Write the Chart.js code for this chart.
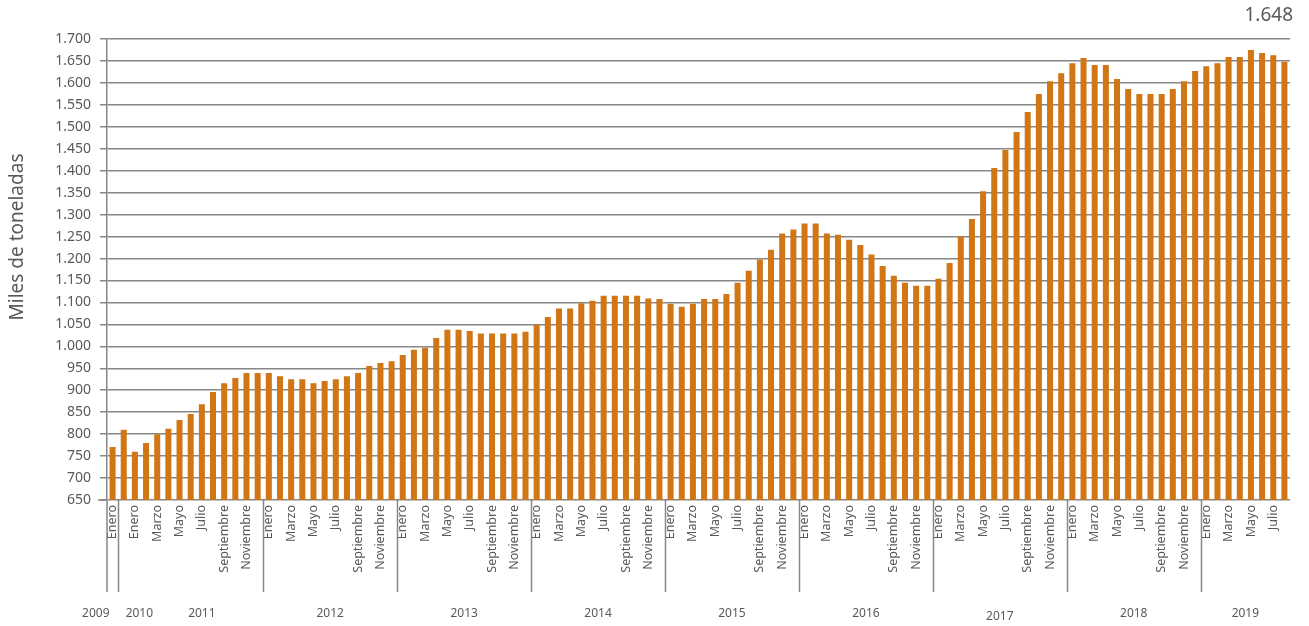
<!DOCTYPE html>
<html>
<head>
<meta charset="utf-8">
<script src="https://cdn.jsdelivr.net/npm/chart.js@4/dist/chart.umd.min.js"></script>
<style>
  html, body { margin: 0; padding: 0; background: #fff; }
</style>
</head>
<body>
<canvas id="chart" width="1309" height="626"></canvas>
<script>
// Monthly values, thousands of tonnes
const values = [
  771, 810,
  760, 780, 800, 812, 832, 846, 868, 896, 916, 928, 939, 939,
  939, 932, 925, 925, 916, 921, 925, 932, 939, 955, 962, 966,
  980, 992, 997, 1019, 1038, 1038, 1035, 1029, 1029, 1029, 1029, 1033,
  1049, 1067, 1086, 1086, 1098, 1104, 1115, 1115, 1115, 1115, 1109, 1108,
  1097, 1090, 1097, 1108, 1108, 1119, 1145, 1172, 1198, 1220, 1257, 1266,
  1280, 1280, 1257, 1254, 1243, 1231, 1209, 1183, 1161, 1145, 1138, 1138,
  1154, 1190, 1250, 1290, 1353, 1406, 1447, 1488, 1534, 1575, 1604, 1622,
  1645, 1657, 1641, 1641, 1609, 1586, 1575, 1575, 1575, 1586, 1604, 1627,
  1638, 1645, 1659, 1659, 1675, 1668, 1663, 1648
];

const monthNames = ['Enero', 'Febrero', 'Marzo', 'Abril', 'Mayo', 'Junio', 'Julio',
  'Agosto', 'Septiembre', 'Octubre', 'Noviembre', 'Diciembre'];

// first bar, then Dec + 12 months, then 7 full years, then Jan-Aug 2019
const categories = ['Enero', 'Diciembre'];
for (let y = 0; y < 8; y++) categories.push(...monthNames);
categories.push(...monthNames.slice(0, 8));

// index of first bar in each year group
const groupStarts = [0, 1, 14, 26, 38, 50, 62, 74, 86, 98];
const years = ['2009', '2010', '2011', '2012', '2013', '2014', '2015', '2016', '2017', '2018', '2019'];

const yTicks = { min: 650, max: 1700, step: 50 };

const textColor = '#595959';
const gridColor = '#878787';
const font = 'Noto Sans';

function fmt(v) {
  return String(Math.round(v)).replace(/\B(?=(\d{3})+(?!\d))/g, '.');
}

const extras = {
  id: 'extras',
  afterDraw(chart) {
    const ctx = chart.ctx;
    const x = chart.scales.x;
    const area = chart.chartArea;
    const step = x.getPixelForValue(1) - x.getPixelForValue(0);
    ctx.save();
    ctx.strokeStyle = gridColor;
    ctx.lineWidth = 1.5;
    // axis line extension and group separators
    ctx.beginPath();
    ctx.moveTo(98, area.bottom);
    ctx.lineTo(area.left, area.bottom);
    ctx.moveTo(area.left, area.bottom);
    ctx.lineTo(area.left, 592);
    groupStarts.slice(1).forEach(i => {
      const px = Math.round(x.getPixelForValue(i) - step / 2) + 0.5;
      ctx.moveTo(px, area.bottom);
      ctx.lineTo(px, 592);
    });
    ctx.stroke();

    // year labels
    ctx.fillStyle = textColor;
    ctx.font = '12px "' + font + '"';
    ctx.textAlign = 'center';
    ctx.textBaseline = 'middle';
    const pos = [-1.5, 2.4, 8];
    for (let g = 2; g < groupStarts.length; g++) {
      const end = g + 1 < groupStarts.length ? groupStarts[g + 1] : categories.length;
      pos.push((groupStarts[g] + end - 1) / 2);
    }
    years.forEach((yr, k) => {
      const yy = yr === '2017' ? 617 : 614;
      ctx.fillText(yr, x.getPixelForValue(0) + pos[k] * step, yy);
    });

    // axis title
    ctx.save();
    ctx.translate(18, 237);
    ctx.rotate(-Math.PI / 2);
    ctx.font = '19px "' + font + '"';
    ctx.fillText('Miles de toneladas', 0, 0);
    ctx.restore();

    // last value label
    ctx.font = '19px "' + font + '"';
    ctx.textAlign = 'right';
    ctx.fillText(fmt(values[values.length - 1]), 1293, 16);
    ctx.restore();
  }
};

new Chart(document.getElementById('chart'), {
  type: 'bar',
  data: {
    labels: categories,
    datasets: [{
      data: values,
      backgroundColor: '#D07614',
      barPercentage: 0.54,
      categoryPercentage: 1.0
    }]
  },
  options: {
    responsive: false,
    animation: false,
    layout: { padding: { top: 39, right: 19, left: 0, bottom: 0 } },
    plugins: {
      legend: { display: false },
      tooltip: { enabled: false }
    },
    scales: {
      x: {
        grid: { display: false, drawTicks: false },
        border: { display: false },
        ticks: {
          autoSkip: false,
          minRotation: 90,
          maxRotation: 90,
          padding: 5,
          color: textColor,
          font: { family: font, size: 12.5 },
          callback(val, index) {
            return index % 2 === 0 ? this.getLabelForValue(val) : '';
          }
        },
        afterFit(scale) { scale.height = 126; }
      },
      y: {
        min: yTicks.min,
        max: yTicks.max,
        grid: { color: gridColor, lineWidth: 1.5, tickLength: 7 },
        border: { color: gridColor, width: 1.5 },
        ticks: {
          stepSize: yTicks.step,
          padding: 9,
          color: textColor,
          font: { family: font, size: 14 },
          callback: v => fmt(v)
        },
        afterFit(scale) { scale.width = 107; }
      }
    }
  },
  plugins: [extras]
});
</script>
</body>
</html>
